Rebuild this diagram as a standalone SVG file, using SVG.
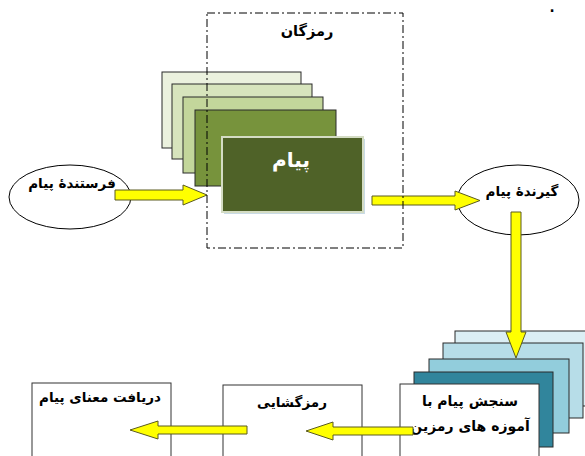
<svg xmlns="http://www.w3.org/2000/svg" width="585" height="456" viewBox="0 0 585 456">
<style>
.t{font-family:"DejaVu Sans","Noto Sans",sans-serif;font-weight:bold;font-size:13.5px;fill:#000;text-anchor:middle}
.card{stroke:#2a2a2a;stroke-width:1}
.arrow{fill:#ffff00;stroke:#5a5a20;stroke-width:1;stroke-linejoin:miter}
.oval{fill:#fff;stroke:#000;stroke-width:1}
.box{fill:#fff;stroke:#333;stroke-width:1}
</style>
<rect width="585" height="456" fill="#fff"/>
<text x="552" y="12" class="t" font-size="12">.</text>

<g id="sender">
<ellipse class="oval" cx="70" cy="197" rx="61" ry="32"/>
<text class="t" x="72" y="188">فرستندهٔ پیام</text>
</g>

<g id="message-stack">
<rect class="card" x="162" y="72" width="139" height="76" fill="#ebf1de"/>
<rect class="card" x="172" y="84" width="140" height="75" fill="#d7e4bd"/>
<rect class="card" x="183" y="97" width="140" height="76" fill="#c3d69b"/>
<rect class="card" x="195" y="110" width="141" height="76" fill="#77933c"/>
</g>

<g id="receiver">
<ellipse class="oval" cx="518" cy="200" rx="61" ry="35"/>
<text class="t" x="522" y="196">گیرندهٔ پیام</text>
</g>

<g id="connectors">
<polygon class="arrow" points="115,190 183,190 183,185 207,195 183,205 183,200 115,200"/>
<polygon class="arrow" points="372,196 455,196 455,191 480,200.5 455,210 455,205 372,205"/>
</g>

<g id="encoding">
<rect x="207" y="13" width="196" height="235" fill="none" stroke="#000" stroke-width="1" stroke-dasharray="8,3,2,3"/>
<text class="t" x="307" y="36" style="font-size:14.5px">رمزگان</text>
</g>

<g id="message">
<rect x="224" y="139" width="141" height="75" fill="#c9dbe6"/>
<rect x="222" y="137" width="141" height="75" fill="#4f6228" stroke="#d4dcc4" stroke-width="2"/>
<text class="t" x="291" y="167" style="fill:#fff;font-size:20px">پیام</text>
</g>

<g id="evaluate-stack">
<rect class="card" x="455" y="331" width="140" height="75" fill="#dbeef4"/>
<rect class="card" x="443" y="343" width="140" height="75" fill="#b7dde8"/>
<rect class="card" x="429" y="359" width="140" height="74" fill="#92cddc"/>
<rect class="card" x="414" y="372" width="139" height="75" fill="#31859c"/>
</g>

<g id="evaluate">
<rect class="box" x="400" y="384" width="139" height="80"/>
<text class="t" x="470" y="406" style="font-size:14px">سنجش پیام با</text>
<text class="t" x="470" y="431" style="font-size:14px">آموزه های رمزین</text>
</g>

<g id="decoding">
<rect class="box" x="223" y="385" width="139" height="80"/>
<text class="t" x="292" y="407">رمزگشایی</text>
</g>

<g id="meaning">
<rect class="box" x="32" y="383" width="139" height="80"/>
<text class="t" x="100" y="402">دریافت معنای پیام</text>
</g>

<g id="connectors-2">
<polygon class="arrow" points="511,212 521,212 521,332 526,332 516,358 506,332 511,332"/>
<polygon class="arrow" points="413,427 333,427 333,422 306,431 333,440 333,435 413,435"/>
<polygon class="arrow" points="247,426 158,426 158,421 130,430 158,439 158,434 247,434"/>
</g>
</svg>
